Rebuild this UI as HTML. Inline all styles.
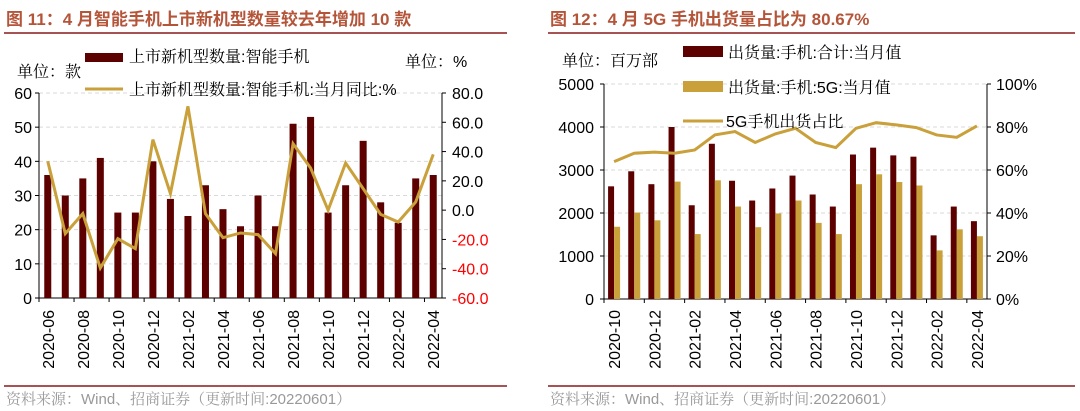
<!DOCTYPE html>
<html><head><meta charset="utf-8"><style>
body{margin:0;background:#fff;}
svg{display:block;font-family:"Liberation Sans","Noto Sans CJK SC",sans-serif;}
.sf{font-family:"Liberation Sans","Noto Serif CJK SC",serif;}
</style></head><body>
<svg id="s" width="1080" height="411"></svg>
<script>
const catsL=["2020-06","2020-07","2020-08","2020-09","2020-10","2020-11","2020-12","2021-01","2021-02","2021-03","2021-04","2021-05","2021-06","2021-07","2021-08","2021-09","2021-10","2021-11","2021-12","2022-01","2022-02","2022-03","2022-04"];
const barsL=[36,30,35,41,25,25,40,29,24,33,26,21,30,21,51,53,25,33,46,28,22,35,36];
const lineL=[33.4,-16,-2.4,-39.5,-19.5,-26.3,48.2,11.3,70.9,-2.4,-18.8,-15.6,-16.7,-29.7,45.4,28.8,0,32.2,14.7,-2.9,-8.1,5.6,38.1];
const ticksLL=[0,10,20,30,40,50,60];
const ticksLR=[-60,-40,-20,0,20,40,60,80];
const catsR=["2020-10","2020-11","2020-12","2021-01","2021-02","2021-03","2021-04","2021-05","2021-06","2021-07","2021-08","2021-09","2021-10","2021-11","2021-12","2022-01","2022-02","2022-03","2022-04"];
const totalR=[2620,2970,2670,4000,2180,3610,2750,2290,2570,2870,2430,2150,3360,3520,3340,3310,1480,2150,1810];
const g5R=[1680,2010,1830,2730,1510,2760,2150,1670,1990,2290,1770,1510,2670,2900,2720,2640,1130,1620,1460];
const pctR=[63.9,67.8,68.3,67.8,69.3,76.3,77.9,72.8,76.8,79.4,72.8,70.4,79.4,82.0,81.0,79.7,76.3,75.2,80.5];
const ticksRL=[0,1000,2000,3000,4000,5000];
const ticksRR=[0,20,40,60,80,100];

const S=document.getElementById('s');
const NS="http://www.w3.org/2000/svg";
function mk(tag,at,name,txt){const e=document.createElementNS(NS,tag);for(const k in at)e.setAttribute(k,at[k]);


if(txt!==undefined)e.textContent=txt;S.appendChild(e);return e;}
const RED="#5c0000",GOLD="#c9a03a",TITLE="#b4553a";

mk('text',{x:6,y:25,'font-size':17,'font-weight':'bold',fill:TITLE},'title-left','图 11：4 月智能手机上市新机型数量较去年增加 10 款');
mk('text',{x:550,y:25,'font-size':17,'font-weight':'bold',fill:TITLE},'title-right','图 12：4 月 5G 手机出货量占比为 80.67%');
mk('line',{x1:4,x2:507,y1:33,y2:33,stroke:'#8b1a1a','stroke-width':1.5},'title-rule-left');
mk('line',{x1:548,x2:1075,y1:33,y2:33,stroke:'#8b1a1a','stroke-width':1.5},'title-rule-right');
mk('line',{x1:4,x2:507,y1:386,y2:386,stroke:'#8b1a1a','stroke-width':1.5},'bottom-rule-left');
mk('line',{x1:548,x2:1075,y1:386,y2:386,stroke:'#8b1a1a','stroke-width':1.5},'bottom-rule-right');
mk('text',{x:6,y:404,'font-size':15,fill:'#999',class:'sf'},'source-left','资料来源：Wind、招商证券（更新时间:20220601）');
mk('text',{x:550,y:404,'font-size':15,fill:'#999',class:'sf'},'source-right','资料来源：Wind、招商证券（更新时间:20220601）');

{const x0=39,x1=442,yT=93,yB=298,n=catsL.length,cw=(x1-x0)/n;
const yl=v=>yB-(v/60)*(yB-yT), yr=v=>yB-((v+60)/140)*(yB-yT), cx=i=>x0+cw*(i+0.5);
ticksLL.forEach(t=>{if(t>0)mk('line',{x1:x0,x2:x1,y1:yl(t),y2:yl(t),stroke:'#d9d9d9','stroke-dasharray':'4,3'},'gridline');
mk('text',{x:32,y:yl(t)+6,'font-size':16,'text-anchor':'end',fill:'#000'},'y-tick-left',t);
mk('line',{x1:x0-4,x2:x0,y1:yl(t),y2:yl(t),stroke:'#000'},'y-tick-mark');});
ticksLR.forEach(t=>{mk('text',{x:452,y:yr(t)+6,'font-size':16,fill:t<0?'#f00':'#000'},'y-tick-right',t.toFixed(1));
mk('line',{x1:x1,x2:x1+4,y1:yr(t),y2:yr(t),stroke:'#000'},'y-tick-mark-right');});
mk('line',{x1:x0,x2:x0,y1:yT,y2:yB,stroke:'#000'},'y-axis-left');
mk('line',{x1:x1,x2:x1,y1:yT,y2:yB,stroke:'#000'},'y-axis-right');
mk('line',{x1:x0,x2:x1,y1:yB,y2:yB,stroke:'#000'},'x-axis');
barsL.forEach((v,i)=>mk('rect',{x:cx(i)-3.5,y:yl(v),width:7,height:yB-yl(v),fill:RED},'bar-new-models'));
mk('polyline',{points:lineL.map((v,i)=>cx(i)+','+yr(v)).join(' '),fill:'none',stroke:GOLD,'stroke-width':3},'line-yoy');
catsL.forEach((c,i)=>{if(i%2==0){mk('line',{x1:x0+cw*i,x2:x0+cw*i,y1:yB,y2:yB+4,stroke:'#000'},'x-tick');
mk('text',{transform:`translate(${cx(i)+6},310) rotate(-90)`,'font-size':16,'text-anchor':'end'},'x-label',c);}});
mk('rect',{x:85,y:53,width:38,height:9,fill:RED},'legend-swatch-bars');
mk('text',{x:129,y:62,'font-size':16,class:'sf'},'legend-bars','上市新机型数量:智能手机');
mk('line',{x1:85,x2:123,y1:89,y2:89,stroke:GOLD,'stroke-width':3},'legend-swatch-line');
mk('text',{x:129,y:95,'font-size':16,class:'sf'},'legend-line','上市新机型数量:智能手机:当月同比:%');
mk('text',{x:17,y:77,'font-size':16,class:'sf'},'unit-left','单位：款');
mk('text',{x:405,y:67,'font-size':16,class:'sf'},'unit-right','单位：%');}

{const x0=604,x1=987,yT=84,yB=299,n=catsR.length,cw=(x1-x0)/n;
const yl=v=>yB-(v/5000)*(yB-yT), yr=v=>yB-(v/100)*(yB-yT), cx=i=>x0+cw*(i+0.5);
ticksRL.forEach(t=>{if(t>0)mk('line',{x1:x0,x2:x1,y1:yl(t),y2:yl(t),stroke:'#d9d9d9','stroke-dasharray':'4,3'},'gridline');
mk('text',{x:594,y:yl(t)+6,'font-size':16,'text-anchor':'end'},'y-tick-left',t);
mk('line',{x1:x0-4,x2:x0,y1:yl(t),y2:yl(t),stroke:'#000'},'y-tick-mark');});
ticksRR.forEach(t=>{mk('text',{x:996,y:yr(t)+6,'font-size':16},'y-tick-right',t+'%');
mk('line',{x1:x1,x2:x1+4,y1:yr(t),y2:yr(t),stroke:'#000'},'y-tick-mark-right');});
mk('line',{x1:x0,x2:x0,y1:yT,y2:yB,stroke:'#000'},'y-axis-left');
mk('line',{x1:x1,x2:x1,y1:yT,y2:yB,stroke:'#000'},'y-axis-right');
mk('line',{x1:x0,x2:x1,y1:yB,y2:yB,stroke:'#000'},'x-axis');
totalR.forEach((v,i)=>mk('rect',{x:cx(i)-6,y:yl(v),width:6,height:yB-yl(v),fill:RED},'bar-total'));
g5R.forEach((v,i)=>mk('rect',{x:cx(i),y:yl(v),width:6,height:yB-yl(v),fill:GOLD},'bar-5g'));
mk('polyline',{points:pctR.map((v,i)=>cx(i)+','+yr(v)).join(' '),fill:'none',stroke:GOLD,'stroke-width':3},'line-5g-share');
catsR.forEach((c,i)=>{if(i%2==0){mk('line',{x1:x0+cw*i,x2:x0+cw*i,y1:yB,y2:yB+4,stroke:'#000'},'x-tick');
mk('text',{transform:`translate(${cx(i)+6},310) rotate(-90)`,'font-size':16,'text-anchor':'end'},'x-label',c);}});
mk('rect',{x:683,y:46,width:40,height:11,fill:RED},'legend-swatch-total');
mk('text',{x:728,y:58,'font-size':16,class:'sf'},'legend-total','出货量:手机:合计:当月值');
mk('rect',{x:683,y:81,width:40,height:11,fill:GOLD},'legend-swatch-5g');
mk('text',{x:728,y:93,'font-size':16,class:'sf'},'legend-5g','出货量:手机:5G:当月值');
mk('line',{x1:683,x2:723,y1:121,y2:121,stroke:GOLD,'stroke-width':3},'legend-swatch-share');
mk('text',{x:726,y:127,'font-size':16,class:'sf'},'legend-share','5G手机出货占比');
mk('text',{x:562,y:66,'font-size':16,class:'sf'},'unit-left','单位：百万部');}
</script>
</body></html>
